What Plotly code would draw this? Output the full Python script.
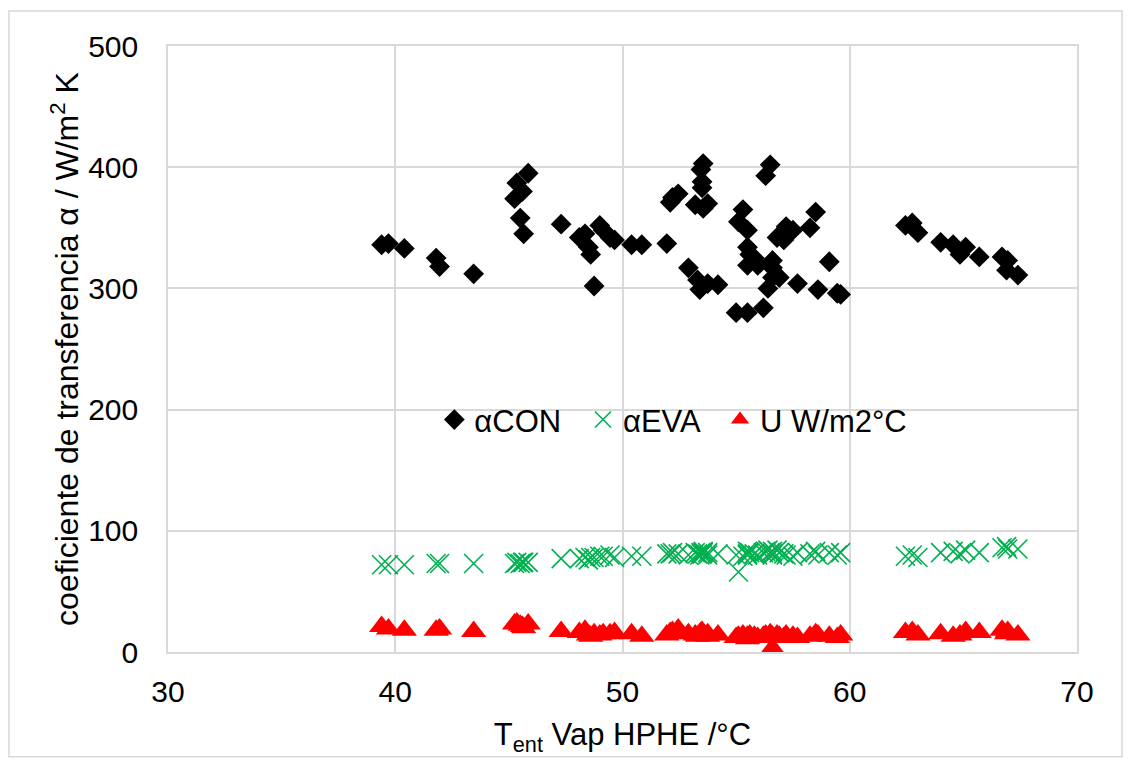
import plotly.graph_objects as go

# Inlet vapour temperature (°C)
t_ent = [39.4, 39.7, 40.4, 41.8, 41.95, 43.45, 45.25, 45.35, 45.5, 45.6, 45.65, 45.85,
         47.3, 48.1, 48.35, 48.5, 48.6, 48.75, 49.0, 49.15, 49.45, 49.65, 50.4, 50.85,
         51.95, 52.1, 52.2, 52.45, 52.9, 53.2, 53.3, 53.4, 53.45, 53.5, 53.55, 53.55,
         53.5, 53.75, 53.75, 54.2, 55.0, 55.1, 55.3, 55.5, 55.5, 55.5, 55.6, 55.5,
         55.8, 55.95, 56.2, 56.3, 56.4, 56.5, 56.6, 56.6, 56.6, 56.8, 56.9, 57.1,
         57.2, 57.5, 57.7, 58.25, 58.5, 58.6, 59.1, 59.45, 59.6, 62.45, 62.75, 63.0,
         64.0, 64.55, 64.85, 65.1, 65.7, 66.7, 66.95, 66.9, 67.4]

alpha_con = [336, 337, 333, 325, 318, 312, 374, 387, 358, 380, 345, 395,
             353, 342, 345, 334, 328, 302, 352, 348, 342, 340, 336, 336,
             337, 371, 375, 378, 317, 369, 307, 299, 398, 388, 403, 366,
             383, 370, 304, 303, 280, 355, 365, 280, 348, 334, 328, 319,
             325, 319, 284, 393, 300, 402, 323, 317, 309, 342, 309, 340,
             351, 348, 304, 350, 363, 299, 322, 296, 295, 352, 354, 346,
             338, 336, 328, 334, 326, 326, 323, 315, 311]

alpha_eva = [72, 72, 72, 73, 73, 73, 73, 74, 73, 74, 74, 74,
             77, 77, 78, 76, 78, 78, 79, 79, 80, 78, 79, 79,
             81, 81, 82, 81, 80, 82, 81, 80, 82, 81, 83, 82,
             81, 82, 80, 81, 80, 66, 79, 80, 81, 80, 82, 83,
             81, 80, 82, 83, 84, 82, 81, 80, 83, 84, 82, 81,
             80, 79, 82, 81, 83, 80, 82, 80, 82, 79, 80, 78,
             82, 83, 81, 84, 82, 86, 85, 87, 85]

u_val = [21, 19, 18, 18, 19, 17, 23, 24, 22, 21, 20, 23,
         17, 16, 18, 14, 13, 15, 14, 15, 15, 16, 15, 13,
         14, 16, 17, 19, 15, 14, 13, 15, 16, 17, 15, 14,
         16, 15, 13, 14, 12, 13, 14, 12, 13, 12, 14, 11,
         13, 12, 13, 14, 12, 15, 3, 13, 12, 14, 13, 12,
         14, 13, 12, 13, 15, 14, 13, 12, 14, 16, 17, 14,
         15, 13, 14, 17, 16, 18, 17, 15, 14]

x_ticks = [30, 40, 50, 60, 70]
y_ticks = [0, 100, 200, 300, 400, 500]

FONT = "Liberation Sans, Arial, sans-serif"

fig = go.Figure()
fig.add_trace(go.Scatter(x=t_ent, y=alpha_con, mode="markers", name="αCON", legend="legend",
                         marker=dict(symbol="diamond", size=16, color="#000000")))
fig.add_trace(go.Scatter(x=t_ent, y=alpha_eva, mode="markers", name="αEVA", legend="legend2",
                         marker=dict(symbol="x-thin", size=19, color="#00B050",
                                     line=dict(width=1.6, color="#00B050"))))
fig.add_trace(go.Scatter(x=t_ent, y=u_val, mode="markers", name="U W/m2°C", legend="legend3",
                         marker=dict(symbol="triangle-up", size=22, color="#FF0000")))

leg_common = dict(orientation="h", y=0.383, xanchor="left", yanchor="middle",
                  bgcolor="rgba(0,0,0,0)", font=dict(size=31, family=FONT), itemwidth=30)

fig.update_layout(
    width=1130, height=765,
    margin=dict(l=168, r=53, t=46, b=113),
    paper_bgcolor="white", plot_bgcolor="white",
    font=dict(family=FONT, size=30, color="#000000"),
    showlegend=True,
    legend=dict(x=0.293, **leg_common),
    legend2=dict(x=0.4565, **leg_common),
    legend3=dict(x=0.6073, **leg_common),
    shapes=[dict(type="rect", xref="paper", yref="paper",
                 x0=-0.175, x1=1.0495, y0=-0.173, y1=1.0578,
                 line=dict(color="#d9d9d9", width=1.5), layer="below")],
)
fig.update_xaxes(range=[30, 70], tickvals=x_ticks, showgrid=True, gridcolor="#d9d9d9",
                 gridwidth=1.5, zeroline=False, showline=True, linecolor="#d9d9d9",
                 linewidth=1.5, mirror=True, ticks="", ticklen=0, ticklabelstandoff=12,
                 title=dict(text="T<sub>ent</sub> Vap HPHE /°C", standoff=17,
                            font=dict(size=31, family=FONT, color="#000000")),
                 tickfont=dict(size=30))
fig.update_yaxes(range=[0, 500], tickvals=y_ticks, showgrid=True, gridcolor="#d9d9d9",
                 gridwidth=1.5, zeroline=False, showline=True, linecolor="#d9d9d9",
                 linewidth=1.5, mirror=True, ticks="", ticklen=0, ticklabelstandoff=22,
                 title=dict(text="coeficiente de transferencia α / W/m<sup>2</sup> K", standoff=0,
                            font=dict(size=32, family=FONT, color="#000000")),
                 tickfont=dict(size=30))

fig.write_html("out.html")
